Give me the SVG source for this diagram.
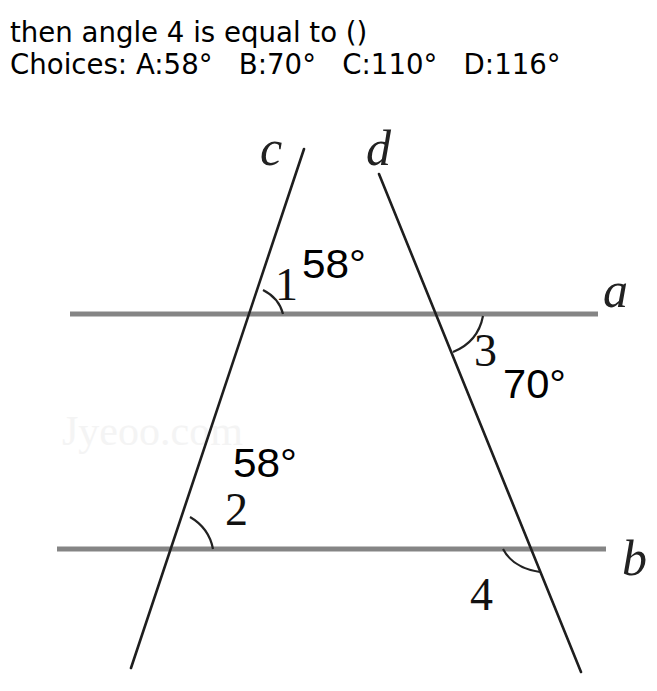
<svg xmlns="http://www.w3.org/2000/svg" width="657" height="691" viewBox="0 0 657 691">
<style>
.q{font-family:"DejaVu Sans",sans-serif;font-size:27.6px;fill:#000}
.par{stroke:#858585;stroke-width:5;fill:none}
.tr{stroke:#1e1e1e;stroke-width:2.6;fill:none;stroke-linecap:round}
.arc{stroke:#222;stroke-width:2.2;fill:none}
.deg{font-family:"Liberation Sans",Arial,sans-serif;font-size:40px;fill:#000}
.num{font-family:"Liberation Serif","Times New Roman",serif;font-size:46px;fill:#111}
.var{font-family:"Liberation Serif","Times New Roman",serif;font-style:italic;font-size:50px;fill:#222}
</style>
<rect width="657" height="691" fill="#fff"/>
<g id="question">
<text class="q" x="10" y="42">then angle 4 is equal to ()</text>
<text class="q" x="10" y="74" xml:space="preserve">Choices: A:58°   B:70°   C:110°   D:116°</text>
</g>
<text x="62" y="445" font-family="Liberation Serif,serif" font-size="42" fill="#f4f4f4">Jyeoo.com</text>
<g id="lines">
<line class="par" x1="70" y1="314" x2="598" y2="314"/>
<line class="par" x1="57" y1="549" x2="606" y2="549"/>
<line class="tr" x1="304" y1="149" x2="131" y2="668"/>
<line class="tr" x1="379" y1="174" x2="581" y2="672"/>
</g>
<g id="arcs">
<path class="arc" d="M263 290 Q279 298 283 314"/>
<path class="arc" d="M483 316 Q478 342 453 352"/>
<path class="arc" d="M190 517 Q209 528 213 549"/>
<path class="arc" d="M503 549 Q513 568 540 572"/>
</g>
<g id="labels">
<text class="deg" x="302" y="278" textLength="64" lengthAdjust="spacingAndGlyphs">58°</text>
<text class="deg" x="503" y="398" textLength="63" lengthAdjust="spacingAndGlyphs">70°</text>
<text class="deg" x="233" y="477" textLength="64" lengthAdjust="spacingAndGlyphs">58°</text>
<text class="num" x="275" y="300">1</text>
<text class="num" x="474" y="366">3</text>
<text class="num" x="225" y="525">2</text>
<text class="num" x="470" y="610">4</text>
<text class="var" x="260" y="165">c</text>
<text class="var" x="366" y="165">d</text>
<text class="var" x="603" y="307">a</text>
<text class="var" x="622" y="575">b</text>
</g>
</svg>
